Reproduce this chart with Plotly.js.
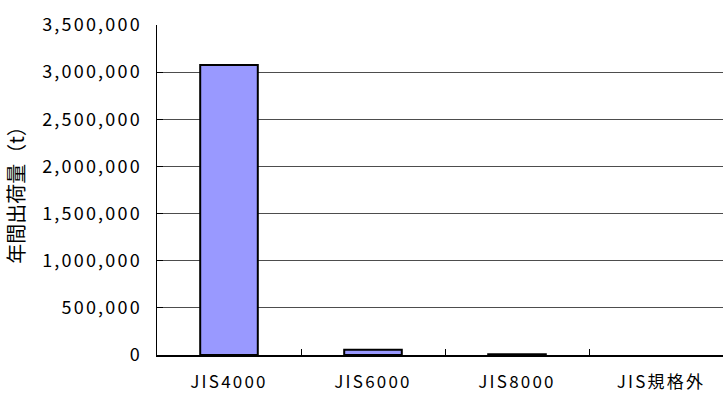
<!DOCTYPE html>
<html>
<head>
<meta charset="utf-8">
<script src="https://cdn.plot.ly/plotly-3.0.1.min.js"></script>
<style>
  html, body { margin: 0; padding: 0; background: #fff; overflow: hidden; }
  #chart { width: 740px; height: 394px; }
  .xtick text, .ytick text { letter-spacing: 2.2px; }
</style>
</head>
<body>
<div id="chart"></div>
<script>
// Annual shipment volume by JIS grade (tonnes)
const categories = ['JIS4000', 'JIS6000', 'JIS8000', 'JIS規格外'];
const shipments = [3075000, 55000, 8000, 0];
const yTickValues = [0, 500000, 1000000, 1500000, 2000000, 2500000, 3000000, 3500000];
const yTickLabels = ['0', '500,000', '1,000,000', '1,500,000', '2,000,000', '2,500,000', '3,000,000', '3,500,000'];

const font = '"Noto Sans CJK JP", "DejaVu Sans", sans-serif';

const trace = {
  type: 'bar',
  x: categories,
  y: shipments,
  marker: {
    color: '#9999FF',
    // empty categories get no outline
    line: { color: '#000000', width: shipments.map(v => (v > 0 ? 2 : 0)) }
  },
  hoverinfo: 'x+y'
};

const layout = {
  width: 740,
  height: 394,
  margin: { l: 157, r: 7, t: 25, b: 39 },
  paper_bgcolor: '#ffffff',
  plot_bgcolor: '#ffffff',
  bargap: 0.6,
  showlegend: false,
  font: { family: font, color: '#000000', size: 16 },
  xaxis: {
    type: 'category',
    showgrid: false,
    showline: true,
    linecolor: '#000000',
    linewidth: 1.5,
    ticks: 'inside',
    tickson: 'boundaries',
    ticklen: 6,
    tickcolor: '#000000',
    tickfont: { family: font, size: 17 },
    ticklabelstandoff: 11
  },
  yaxis: {
    range: [0, 3500000],
    tickvals: yTickValues,
    ticktext: yTickLabels,
    showgrid: true,
    gridcolor: '#4d4d4d',
    gridwidth: 1,
    showline: true,
    linecolor: '#000000',
    linewidth: 1.5,
    zeroline: false,
    ticks: 'inside',
    ticklen: 6,
    tickcolor: '#000000',
    tickfont: { family: font, size: 18 },
    ticklabelstandoff: 10,
    title: { text: '年間出荷量（t）', font: { family: font, size: 20, color: '#000000' }, standoff: 12 }
  }
};

Plotly.newPlot('chart', [trace], layout, { displayModeBar: false, staticPlot: true });
</script>
</body>
</html>
